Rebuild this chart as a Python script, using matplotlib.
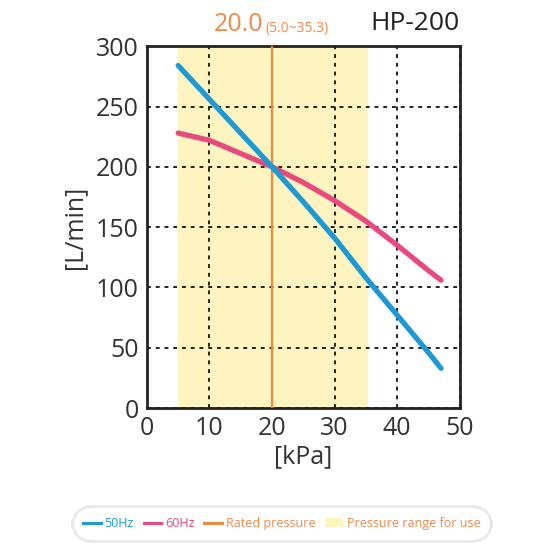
import matplotlib
matplotlib.use("Agg")
import matplotlib.pyplot as plt
from matplotlib.lines import Line2D
from matplotlib.patches import Patch

plt.rcParams['font.family'] = ['Open Sans', 'DejaVu Sans']

# 数据
pressure = [5, 10, 15, 20, 25, 30, 35, 40, 45, 47]
flow_50hz = [284, 256, 228, 200, 171, 141, 108, 77, 46, 33]
flow_60hz = [228, 222, 211, 200, 187, 172, 155, 135, 114, 106]
rated = 20.0
range_lo, range_hi = 5.0, 35.3
x_ticks = [0, 10, 20, 30, 40, 50]
y_ticks = [0, 50, 100, 150, 200, 250, 300]

c_blue = '#1b9ad6'
c_pink = '#e9497c'
c_orange = '#f0883e'
c_band = '#fdf4c0'
c_text_orange = '#ef8a4a'

fig = plt.figure(figsize=(5.5, 5.5), dpi=100)
ax = fig.add_axes([0.267, 0.258, 0.569, 0.658])

# 使用压力范围
ax.axvspan(range_lo, range_hi, color=c_band, zorder=0, lw=0)

ax.grid(True, color='#222222', linestyle=(0, (2, 2.5)), linewidth=1.4, zorder=1)
ax.set_axisbelow(False)
ax.axvline(rated, color=c_orange, lw=1.6, zorder=2.6)

ax.plot(pressure, flow_60hz, color=c_pink, lw=3.8, solid_capstyle='round', zorder=3)
ax.plot(pressure, flow_50hz, color=c_blue, lw=3.8, solid_capstyle='round', zorder=4)

ax.set_xlim(0, 50)
ax.set_ylim(0, 300)
ax.set_xticks(x_ticks)
ax.set_yticks(y_ticks)
ax.tick_params(length=0, labelsize=18, colors='#333333', pad=6)
for s in ax.spines.values():
    s.set_linewidth(2)
    s.set_color('#222222')

ax.set_xlabel('[kPa]', fontsize=18, color='#333333', labelpad=2)
ax.set_ylabel('[L/min]', fontsize=18, color='#333333', labelpad=6)

# 标题
fig.text(0.836, 0.935, 'HP-200', fontsize=19, color='#222222', ha='right', va='bottom')
fig.text(0.478, 0.932, '20.0', fontsize=18, color=c_text_orange, ha='right', va='bottom')
fig.text(0.482, 0.934, '(5.0~35.3)', fontsize=10, color=c_text_orange, ha='left', va='bottom')

# 图例
handles = [
    Line2D([], [], color=c_blue, lw=2.2),
    Line2D([], [], color=c_pink, lw=2.2),
    Line2D([], [], color=c_orange, lw=2.2),
    Patch(facecolor=c_band, edgecolor='none'),
]
labels = ['50Hz', '60Hz', 'Rated pressure', 'Pressure range for use']
leg = fig.legend(handles, labels, loc='center', bbox_to_anchor=(0.512, 0.048),
                 ncol=4, frameon=True, fancybox=True, fontsize=9,
                 handlelength=1.4, handletextpad=0.3, columnspacing=0.8,
                 borderpad=0.9, borderaxespad=0, edgecolor='#e2e2e2')
leg.get_frame().set_linewidth(1.8)
leg.get_frame().set_boxstyle('round,pad=0,rounding_size=1.7')
for t, c in zip(leg.get_texts(), [c_blue, c_pink, c_text_orange, c_text_orange]):
    t.set_color(c)

fig.savefig('out.png', dpi=100)
